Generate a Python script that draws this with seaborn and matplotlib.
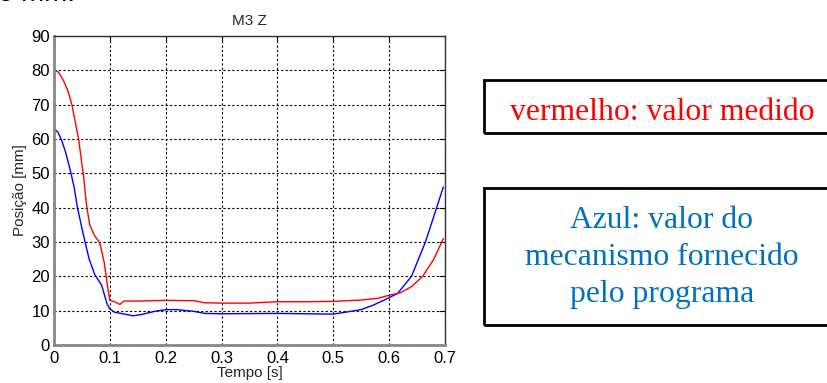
import matplotlib
matplotlib.use("Agg")
import matplotlib.pyplot as plt
import seaborn as sns
import pandas as pd
from matplotlib.patches import Rectangle

# ---- data ----
t_red = [0.0, 0.008, 0.017, 0.025, 0.032, 0.044, 0.053, 0.058, 0.064, 0.072, 0.082, 0.09, 0.095,
         0.1, 0.11, 0.118, 0.125, 0.15, 0.2, 0.25, 0.27, 0.3, 0.35, 0.4, 0.45, 0.5,
         0.55, 0.58, 0.6, 0.62, 0.64, 0.66, 0.68, 0.697]
red_vals = [80, 79.5, 77, 74, 70, 60, 49, 41, 35, 32, 29.7, 24, 18,
            13, 12.5, 11.8, 12.8, 12.8, 13, 12.9, 12.3, 12.2, 12.2, 12.6, 12.6, 12.7,
            13.1, 13.6, 14.5, 15.2, 17, 20, 25, 31]

t_blue = [0.0, 0.007, 0.014, 0.021, 0.029, 0.036, 0.042, 0.05, 0.057, 0.063, 0.073, 0.085, 0.095,
          0.1, 0.109, 0.12, 0.142, 0.16, 0.18, 0.2, 0.22, 0.25, 0.27, 0.3, 0.4, 0.5, 0.52,
          0.55, 0.57, 0.59, 0.615, 0.64, 0.665, 0.685, 0.697]
blue_vals = [63, 62, 59.5, 56, 51, 46, 40, 34, 29, 25, 20.5, 17.5, 12,
             10.5, 9.5, 9.2, 8.5, 9, 9.8, 10.3, 10.3, 9.8, 9.2, 9.1, 9.2, 9, 9.5,
             10.3, 11.5, 13, 15, 20, 30, 40, 46]

x_ticks = [0, 0.1, 0.2, 0.3, 0.4, 0.5, 0.6, 0.7]
x_tick_labels = ["0", "0.1", "0.2", "0.3", "0.4", "0.5", "0.6", "0.7"]
y_ticks = [0, 10, 20, 30, 40, 50, 60, 70, 80, 90]
title = "M3 Z"
x_label = "Tempo [s]"
y_label = "Posição [mm]"
note_red = "vermelho: valor medido"
note_blue_lines = ["Azul: valor do", "mecanismo fornecido", "pelo programa"]
top_fragment = "e mm."

sns.set_style("white")
plt.rcParams["font.family"] = ["Liberation Sans", "DejaVu Sans"]

W, H = 828, 383
fig = plt.figure(figsize=(W / 100, H / 100), dpi=100)
ax = fig.add_axes([54 / W, 1 - 345 / H, (445 - 54) / W, (345 - 36) / H])

df_red = pd.DataFrame({"t": t_red, "v": red_vals})
df_blue = pd.DataFrame({"t": t_blue, "v": blue_vals})
sns.lineplot(data=df_blue, x="t", y="v", ax=ax, color="#0000FF", linewidth=1.0)
sns.lineplot(data=df_red, x="t", y="v", ax=ax, color="#FF0000", linewidth=1.0)

ax.set_xlim(0, 0.7)
ax.set_ylim(0, 90)
ax.set_xticks(x_ticks)
ax.set_xticklabels(x_tick_labels)
ax.set_yticks(y_ticks)
ax.grid(True, linestyle=(0, (2, 2)), color="black", linewidth=0.8)
ax.tick_params(direction="in", length=4, labelsize=12, colors="black", pad=3,
               top=True, right=True)
ax.tick_params(axis="x", pad=4)
for side in ["top", "right"]:
    ax.spines[side].set_color("#333333")
    ax.spines[side].set_linewidth(1.0)
for side in ["left", "bottom"]:
    ax.spines[side].set_color("#888888")
    ax.spines[side].set_linewidth(2.0)
ax.set_title(title, fontsize=11, pad=8)
ax.set_xlabel(x_label, fontsize=11, labelpad=0)
ax.set_ylabel(y_label, fontsize=11, labelpad=3)

# top-left fragment of text cut off by the image edge (as in the reference)
fig.text(-0.002, 1 - 1 / H, top_fragment, fontsize=20, ha="left", va="baseline",
         color="black")

# note boxes (extend beyond the right edge)
fig.patches.append(Rectangle((484 / W, 1 - 133 / H), (840 - 484) / W, (133 - 80) / H,
                             transform=fig.transFigure, fill=False, edgecolor="black",
                             linewidth=2.0))
fig.patches.append(Rectangle((484 / W, 1 - 325 / H), (840 - 484) / W, (325 - 188) / H,
                             transform=fig.transFigure, fill=False, edgecolor="black",
                             linewidth=2.0))
fig.text(662 / W, 1 - 120 / H, note_red, fontsize=22.8, color="#FF0000",
         family="Liberation Serif", ha="center", va="baseline")
for i, line in enumerate(note_blue_lines):
    fig.text(662 / W, 1 - (228 + 37 * i) / H, line, fontsize=22.8, color="#0070C0",
             family="Liberation Serif", ha="center", va="baseline")

fig.savefig("out.png", dpi=100)
